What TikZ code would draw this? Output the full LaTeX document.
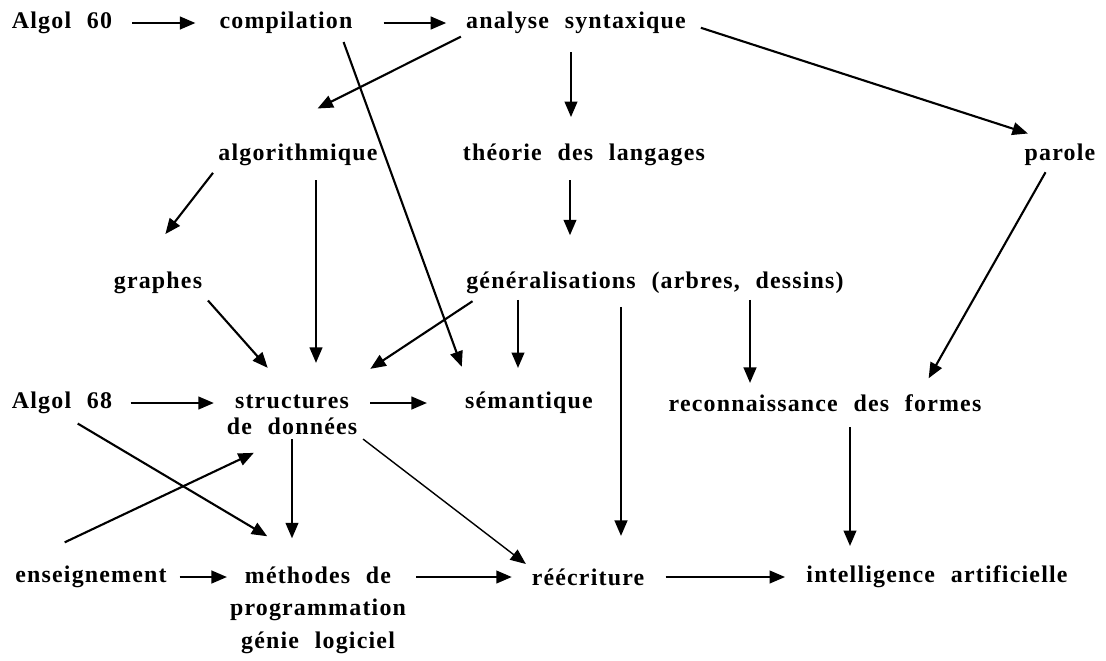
\documentclass[tikz,border=0pt]{standalone}
\usepackage{fontspec}
\setmainfont{Liberation Serif}[LetterSpace=5,WordSpace=2.2]
\usepackage{tikz}
\usetikzlibrary{arrows.meta,calc}

\tikzset{
  lbl/.style={font=\bfseries\fontsize{17}{18}\selectfont, inner sep=0pt},
  arr/.style={line width=1.5pt, -{Triangle[length=11pt,width=9pt]}},
}

\begin{document}
\begin{tikzpicture}[x=0.025cm,y=-0.025cm]
\useasboundingbox (0,0) rectangle (1106,660);
\node[lbl] (a60) at (62,23) {Algol 60};
\node[lbl] (comp) at (286,23) {compilation};
\node[lbl] (ana) at (576,23) {analyse syntaxique};
\node[lbl] (algo) at (298,155) {algorithmique};
\node[lbl] (theo) at (584,155) {théorie des langages};
\node[lbl] (parole) at (1060,155) {parole};
\node[lbl] (graphes) at (158,283) {graphes};
\node[lbl] (gen) at (655,283) {généralisations (arbres, dessins)};
\node[lbl] (a68) at (62,403) {Algol 68};
\node[lbl, align=center] (struct) at (292,415) {structures\\[0pt]de données};
\node[lbl, align=center] (meth) at (318,610) {méthodes de\\[5pt]programmation\\[5pt]génie logiciel};
\node[lbl] (sem) at (529,403) {sémantique};
\node[lbl] (reco) at (825,403) {reconnaissance des formes};
\node[lbl] (ens) at (91,577) {enseignement};
\node[lbl] (reec) at (588,577) {réécriture};
\node[lbl] (ia) at (937,577) {intelligence artificielle};

\draw[arr, shorten <=14pt, shorten >=17pt] (a60.east) -- (a60.east -| comp.west);
\draw[arr, shorten <=22pt, shorten >=14pt] (comp.east) -- (comp.east -| ana.west);
\draw[arr, shorten <=13pt, shorten >=19pt] ($(ana.south)+(-5,0)$) -- ($(ana.south |- theo.north)+(-5,0)$);
\draw[arr, shorten <=4pt, shorten >=56pt] (ana.south west) -- ($(algo.north west)+(29,0)$);
\draw[arr, shorten <=11pt, shorten >=24pt] (ana.east) -- (parole.north);
\draw[arr, shorten <=6pt, shorten >=19pt] ($(comp.south east)+(-12,0)$) -- ($(sem.north west)+(6,0)$);
\draw[arr, shorten <=6pt, shorten >=34pt] (algo.south west) -- ($(graphes.north)+(-22,0)$);
\draw[arr, shorten <=10pt, shorten >=23pt] ($(algo.south)+(18,0)$) -- ($(algo.south |- struct.north)+(18,0)$);
\draw[arr, shorten <=10pt, shorten >=26pt] ($(theo.south)+(-14,0)$) -- ($(theo.south |- gen.north)+(-14,0)$);
\draw[arr, shorten <=5pt, shorten >=13pt] ($(parole.south)+(-11,0)$) -- ($(reco.north east)+(-62,0)$);
\draw[arr, shorten <=6pt, shorten >=26pt] (graphes.south east) -- (struct.north);
\draw[arr, shorten <=9pt, shorten >=34pt] ($(gen.south west)+(17,0)$) -- ($(struct.north east)+(-27,0)$);
\draw[arr, shorten <=4pt, shorten >=17pt] ($(gen.south -| sem.north)+(-11,0)$) -- ($(sem.north)+(-11,0)$);
\draw[arr, shorten <=9pt, shorten >=23pt] ($(gen.south -| reec.north)+(33,0)$) -- ($(reec.north)+(33,0)$);
\draw[arr, shorten <=4pt, shorten >=8pt] ($(gen.south -| reco.north)+(-75,0)$) -- ($(reco.north)+(-75,0)$);
\draw[arr, shorten <=13pt, shorten >=9pt] (a68.east) -- (a68.east -| struct.west);
\draw[arr, shorten <=9pt, shorten >=27pt] (sem.west -| struct.east) -- (sem.west);
\draw[arr, shorten <=13pt, shorten >=42pt] (a68.south) -- (meth.north);
\draw[arr, shorten <=39pt, shorten >=30pt] (ens.north west) -- (struct.south);
\draw[arr, shorten <=3pt, shorten >=20pt] (struct.south) -- (struct.south |- meth.north);
\draw[arr, line width=1pt, shorten <=5pt, shorten >=5pt] (struct.south east) -- (reec.north west);
\draw[arr, shorten <=11pt, shorten >=14pt] ($(reco.south)+(25,0)$) -- ($(reco.south |- ia.north)+(25,0)$);
\draw[arr, shorten <=9pt, shorten >=2pt] (ens.east) -- (ens.east -| meth.west);
\draw[arr, shorten <=7pt, shorten >=14pt] (reec.west -| meth.east) -- (reec.west);
\draw[arr, shorten <=15pt, shorten >=15pt] (reec.east) -- (reec.east -| ia.west);
\end{tikzpicture}
\end{document}
